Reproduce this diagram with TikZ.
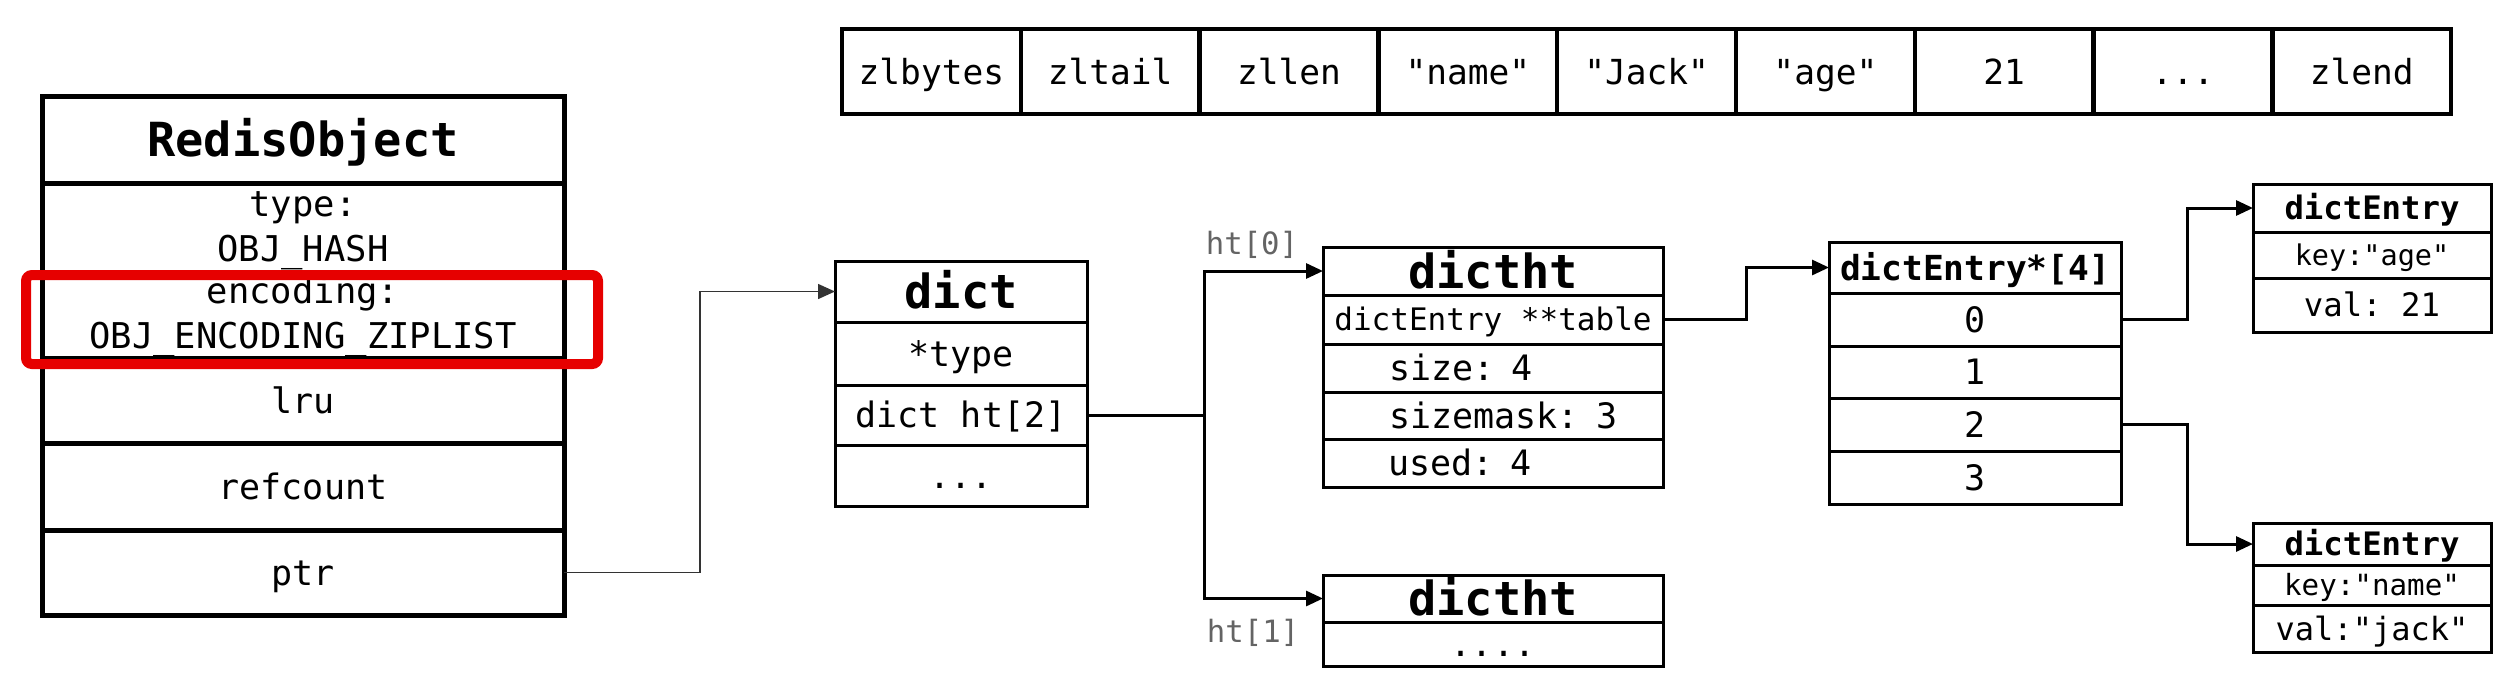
\documentclass[tikz,border=0pt]{standalone}
\usepackage{fontspec}
\setmonofont{DejaVu Sans Mono}
\renewcommand{\familydefault}{\ttdefault}
\usetikzlibrary{arrows.meta}
\definecolor{hlred}{RGB}{230,0,0}
\definecolor{lblgray}{RGB}{100,100,100}
\tikzset{
  box/.style={draw, rectangle, inner sep=0pt, outer sep=0pt, line width=3pt},
  txtR/.style 2 args={font=\ttfamily\fontsize{#1}{#1}\selectfont, text height=#2pt, text depth=0pt},
  txtB/.style 2 args={font=\ttfamily\bfseries\fontsize{#1}{#1}\selectfont, text height=#2pt, text depth=0pt},
  two/.style={font=\ttfamily\fontsize{35.5}{45}\selectfont, align=center, text height=67pt, text depth=0pt},
  arr/.style={line width=3pt, -{Triangle[length=17pt,width=15pt]}},
  thinarr/.style={line width=1.5pt, draw=black!80, -{Triangle[length=17pt,width=15pt]}},
  plainconn/.style={line width=3pt},
  zcell/.style={box, line width=4.5pt, txtR={34.5}{25.2}, minimum width=178.8pt, minimum height=85pt},
}
\begin{document}
\begin{tikzpicture}[x=1pt,y=-1pt]
\useasboundingbox (0,0) rectangle (2512,678);

% ziplist
\node[zcell] (z1) at (931.4,71.5) {zlbytes};
\node[zcell] (z2) at (1110.2,71.5) {zltail};
\node[zcell] (z3) at (1289.0,71.5) {zllen};
\node[zcell] (z4) at (1467.8,71.5) {"name"};
\node[zcell] (z5) at (1646.6,71.5) {"Jack"};
\node[zcell] (z6) at (1825.4,71.5) {"age"};
\node[zcell] (z7) at (2004.2,71.5) {21};
\node[zcell] (z8) at (2183.0,71.5) {...};
\node[zcell] (z9) at (2361.8,71.5) {zlend};

% RedisObject
\begin{scope}[every node/.append style={box, line width=5pt, minimum width=522pt}]
\node[txtB={47}{34.3}, minimum height=87pt] (ro0) at (303,139.5) {RedisObject};
\node[two, minimum height=89pt] (ro1) at (303,227.5) {type:\\OBJ\_HASH};
\node[two, minimum height=86pt] (ro2) at (303,315) {encoding:\\OBJ\_ENCODING\_ZIPLIST};
\node[txtR={35}{25.5}, minimum height=85pt] (ro3) at (303,400.5) {lru};
\node[txtR={35}{25.5}, minimum height=87pt] (ro4) at (303,486.5) {refcount};
\node[txtR={35}{25.5}, minimum height=85pt] (ro5) at (303,572.5) {ptr};
\end{scope}
\node[draw=hlred, line width=10pt, rounded corners=6pt, minimum width=572pt, minimum height=89pt, inner sep=0pt] (hl) at (312,319.5) {};

% dict
\begin{scope}[every node/.append style={box, minimum width=252pt}]
\node[txtB={47}{34.3}, minimum height=61pt] (d0) at (961,291.5) {dict};
\node[txtR={35}{25.5}, minimum height=63pt] (d1) at (961,353.5) {*type};
\node[txtR={35}{25.5}, minimum height=60pt] (d2) at (961,415) {dict ht[2]};
\node[txtR={35}{25.5}, minimum height=61pt] (d3) at (961,475.5) {...};
\end{scope}

% dictht 0
\begin{scope}[every node/.append style={box, minimum width=340pt}]
\node[txtB={47}{34.3}, minimum height=48pt] (h0) at (1493,271) {dictht};
\node[txtR={31}{22.6}, minimum height=49pt] (h1) at (1493,319.5) {dictEntry **table};
\node[txtR={35}{25.5}, minimum height=48pt, text width=340pt, align=left] (h2) at (1493,368) {\hspace*{66pt}size: 4};
\node[txtR={35}{25.5}, minimum height=47pt, text width=340pt, align=left] (h3) at (1493,415.5) {\hspace*{66pt}sizemask: 3};
\node[txtR={35}{25.5}, minimum height=48pt, text width=340pt, align=left] (h4) at (1493,463) {\hspace*{65pt}used: 4};
% dictht 1
\node[txtB={47}{34.3}, minimum height=47pt] (g0) at (1493,598.5) {dictht};
\node[txtR={35}{25.5}, minimum height=44pt] (g1) at (1493,644) {....};
\end{scope}

% dictEntry*[4]
\begin{scope}[every node/.append style={box, minimum width=292pt}]
\node[txtB={34.5}{25.2}, minimum height=51pt] (a0) at (1975,267.5) {dictEntry*[4]};
\node[txtR={35}{25.5}, minimum height=53pt] (a1) at (1975,319.5) {0};
\node[txtR={35}{25.5}, minimum height=52pt] (a2) at (1975,372) {1};
\node[txtR={35}{25.5}, minimum height=53pt] (a3) at (1975,424.5) {2};
\node[txtR={35}{25.5}, minimum height=53pt] (a4) at (1975,477.5) {3};
\end{scope}

% dictEntry boxes
\begin{scope}[every node/.append style={box, minimum width=238pt}]
\node[txtB={32.3}{23.5}, minimum height=48pt] (e0) at (2372,208) {dictEntry};
\node[txtR={28.5}{20.8}, minimum height=46pt] (e1) at (2372,255) {key:"age"};
\node[txtR={32.3}{23.5}, minimum height=54pt] (e2) at (2372,305) {val: 21};
\node[txtB={32.3}{23.5}, minimum height=42pt] (f0) at (2372,544) {dictEntry};
\node[txtR={29.2}{21.3}, minimum height=40pt] (f1) at (2372,585) {key:"name"};
\node[txtR={32}{23.3}, minimum height=47pt] (f2) at (2372,628.5) {val:"jack"};
\end{scope}

% labels
\node[txtR={30.7}{22.4}, text=lblgray, inner sep=0pt] (lbl0) at (1252,243.5) {ht[0]};
\node[txtR={30.7}{22.4}, text=lblgray, inner sep=0pt] (lbl1) at (1253,631) {ht[1]};

% connectors
\draw[thinarr] (ro5.east) -- ++(136,0) |- (d0.west);
\coordinate (split) at (1204,415);
\draw[plainconn] (d2.east) -- (split);
\draw[arr] (split) |- (h0.west);
\draw[arr] (split) |- (g0.west);
\draw[arr] (h1.east) -- ++(83,0) |- (a0.west);
\draw[arr] (a1.east) -- ++(66,0) |- (e0.west);
\draw[arr] (a3.east) -- ++(66,0) |- (f0.west);
\end{tikzpicture}
\end{document}
